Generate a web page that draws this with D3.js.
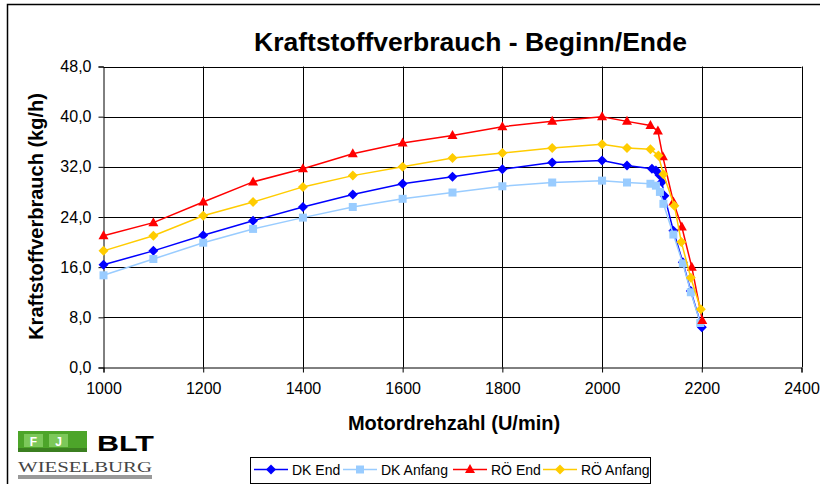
<!DOCTYPE html>
<html>
<head>
<meta charset="utf-8">
<script src="https://cdn.jsdelivr.net/npm/d3@7"></script>
<style>
    body { margin: 0; background: #fff; }
    svg { display: block; font-family: "Liberation Sans", Arial, sans-serif; }
</style>
</head>
<body>
<svg id="svg" width="820" height="484"></svg>
<script>
// ---- data ----
const xTicks = [1000, 1200, 1400, 1600, 1800, 2000, 2200, 2400];
const yTicks = [0, 8, 16, 24, 32, 40, 48];
const seriesNames = ["DK End", "DK Anfang", "RÖ End", "RÖ Anfang"];

const dkEndRpm = [1000, 1100, 1200, 1300, 1400, 1500, 1600, 1700, 1800, 1900, 2000, 2050, 2100, 2108, 2115, 2120, 2125, 2143, 2162, 2178, 2200];
const dkEndVal = [16.4, 18.6, 21.1, 23.4, 25.6, 27.6, 29.3, 30.4, 31.6, 32.7, 33.0, 32.2, 31.7, 31.4, 30.7, 29.6, 27.4, 21.8, 16.8, 12.2, 6.4];

const dkAnfRpm = [1000, 1100, 1200, 1300, 1400, 1500, 1600, 1700, 1800, 1900, 2000, 2050, 2097, 2108, 2116, 2123, 2143, 2162, 2178, 2197];
const dkAnfVal = [14.7, 17.3, 19.9, 22.1, 23.9, 25.6, 26.9, 27.9, 28.9, 29.5, 29.8, 29.5, 29.3, 29.0, 28.0, 26.1, 21.2, 16.6, 12.0, 7.1];

const roEndRpm = [1000, 1100, 1200, 1300, 1400, 1500, 1600, 1700, 1800, 1900, 2000, 2050, 2097, 2112, 2122, 2143, 2160, 2180, 2201];
const roEndVal = [21.0, 23.1, 26.4, 29.6, 31.7, 34.1, 35.8, 37.0, 38.4, 39.25, 40.0, 39.25, 38.6, 37.7, 33.6, 26.4, 22.4, 16.0, 7.5];

const roAnfRpm = [1000, 1100, 1200, 1300, 1400, 1500, 1600, 1700, 1800, 1900, 2000, 2050, 2097, 2113, 2123, 2145, 2159, 2178, 2198];
const roAnfVal = [18.6, 21.0, 24.2, 26.4, 28.8, 30.6, 32.0, 33.4, 34.2, 35.0, 35.6, 35.0, 34.8, 33.8, 30.8, 25.8, 20.0, 14.3, 9.3];

// build the series table used for drawing
const series = [
    {name: seriesNames[0], color: "#0000ff", marker: "diamond", pts: d3.zip(dkEndRpm, dkEndVal)},
    {name: seriesNames[1], color: "#99ccff", marker: "square", pts: d3.zip(dkAnfRpm, dkAnfVal)},
    {name: seriesNames[2], color: "#ff0000", marker: "triangle", pts: d3.zip(roEndRpm, roEndVal)},
    {name: seriesNames[3], color: "#ffcc00", marker: "diamond", pts: d3.zip(roAnfRpm, roAnfVal)}
];

const svg = d3.select("#svg");

// outer chart frame (only top & left visible)
svg.append("path")
    .attr("d", "M7.5,484 V4.5 H820")
    .attr("fill", "none")
    .attr("stroke", "#000")
    .attr("stroke-width", 1.5);

const x = d3.scaleLinear().domain([1000, 2400]).range([103.5, 801.5]);
const y = d3.scaleLinear().domain([0, 48]).range([367.5, 66.5]);

// gridlines
svg.append("g")
    .selectAll("line.h")
    .data(yTicks.slice(1))
    .join("line")
    .attr("x1", x(1000)).attr("x2", x(2400))
    .attr("y1", d => Math.round(y(d)) + 0.5).attr("y2", d => Math.round(y(d)) + 0.5)
    .attr("stroke", "#000").attr("stroke-width", 1);

svg.append("g")
    .selectAll("line.v")
    .data(xTicks.slice(1))
    .join("line")
    .attr("x1", d => Math.round(x(d)) + 0.5).attr("x2", d => Math.round(x(d)) + 0.5)
    .attr("y1", y(0)).attr("y2", y(48))
    .attr("stroke", "#000").attr("stroke-width", 1);

// axes
const yAxis = svg.append("g")
    .attr("transform", "translate(103.5,0)")
    .call(d3.axisLeft(y).tickValues(yTicks).tickSize(5).tickPadding(7)
        .tickFormat(d => d3.format(".1f")(d).replace(".", ",")));
const xAxis = svg.append("g")
    .attr("transform", "translate(0,367.5)")
    .call(d3.axisBottom(x).tickValues(xTicks).tickSize(5).tickPadding(10)
        .tickFormat(d3.format("d")));

[yAxis, xAxis].forEach(function (ax) {
    ax.select(".domain").attr("stroke", "#000");
    ax.selectAll(".tick line").attr("stroke", "#000");
    ax.selectAll("text")
        .attr("font-family", "Liberation Sans, Arial, sans-serif")
        .attr("font-size", 16)
        .attr("fill", "#000");
});

// markers as paths centred on 0,0
function markerPath(type) {
    if (type === "square") return "M-4,-4H4V4H-4Z";
    if (type === "triangle") return "M0,-5.5L5,3.5H-5Z";
    return "M0,-5L5,0L0,5L-5,0Z";
}

const line = d3.line().x(d => x(d[0])).y(d => y(d[1]));

series.forEach(function (s) {
    const g = svg.append("g");
    g.append("path")
        .attr("d", line(s.pts))
        .attr("fill", "none")
        .attr("stroke", s.color)
        .attr("stroke-width", 1.5);
    g.selectAll("path.m")
        .data(s.pts)
        .join("path")
        .attr("class", "m")
        .attr("d", markerPath(s.marker))
        .attr("transform", d => "translate(" + x(d[0]) + "," + y(d[1]) + ")")
        .attr("fill", s.color);
});

// titles
svg.append("text")
    .attr("x", 470.5).attr("y", 51)
    .attr("text-anchor", "middle")
    .attr("font-size", 26.5).attr("font-weight", "bold")
    .text("Kraftstoffverbrauch - Beginn/Ende");

svg.append("text")
    .attr("x", 454).attr("y", 430)
    .attr("text-anchor", "middle")
    .attr("font-size", 20).attr("font-weight", "bold")
    .text("Motordrehzahl (U/min)");

svg.append("text")
    .attr("transform", "translate(43,216.5) rotate(-90)")
    .attr("text-anchor", "middle")
    .attr("font-size", 20).attr("font-weight", "bold")
    .text("Kraftstoffverbrauch (kg/h)");

// legend
const legend = svg.append("g");
legend.append("rect")
    .attr("x", 250.5).attr("y", 457.5)
    .attr("width", 400).attr("height", 26)
    .attr("fill", "#fff").attr("stroke", "#000");

const legendX = [254, 343, 453, 543];
series.forEach(function (s, i) {
    const lx = legendX[i];
    legend.append("line")
        .attr("x1", lx).attr("x2", lx + 34)
        .attr("y1", 469.5).attr("y2", 469.5)
        .attr("stroke", s.color).attr("stroke-width", 1.5);
    legend.append("path")
        .attr("d", markerPath(s.marker))
        .attr("transform", "translate(" + (lx + 17) + ",469.5)")
        .attr("fill", s.color);
    legend.append("text")
        .attr("x", lx + 38).attr("y", 474.5)
        .attr("font-size", 14)
        .text(s.name);
});

// BLT Wieselburg logo
const logo = svg.append("g");
logo.append("rect").attr("x", 18).attr("y", 431).attr("width", 69).attr("height", 21).attr("fill", "#4da52a");
logo.append("rect").attr("x", 18).attr("y", 448).attr("width", 69).attr("height", 4).attr("fill", "#3b7f20");
[[24, "F"], [49, "J"]].forEach(function (b) {
    logo.append("rect").attr("x", b[0]).attr("y", 434).attr("width", 19).attr("height", 13).attr("fill", "#7cc85a");
    logo.append("text").attr("x", b[0] + 9.5).attr("y", 445.5)
        .attr("text-anchor", "middle").attr("font-size", 12).attr("font-weight", "bold")
        .attr("fill", "#fff").text(b[1]);
});
logo.append("text")
    .attr("x", 97).attr("y", 451)
    .attr("font-size", 22).attr("font-weight", "bold")
    .attr("textLength", 57).attr("lengthAdjust", "spacingAndGlyphs")
    .text("BLT");
logo.append("text")
    .attr("x", 18).attr("y", 472)
    .attr("font-family", "Liberation Serif, serif")
    .attr("font-size", 14).attr("fill", "#444")
    .attr("textLength", 134).attr("lengthAdjust", "spacingAndGlyphs")
    .text("WIESELBURG");
logo.append("rect").attr("x", 18).attr("y", 475).attr("width", 134).attr("height", 4).attr("fill", "#999");
</script>
</body>
</html>
